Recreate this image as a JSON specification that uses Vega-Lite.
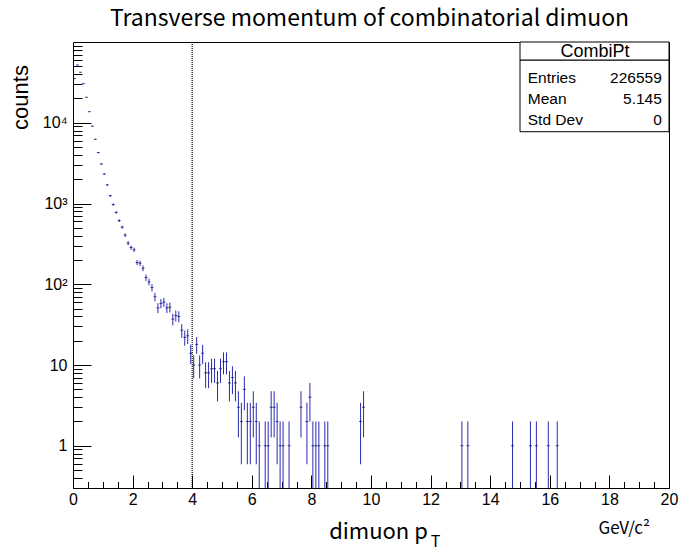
{
  "$schema": "https://vega.github.io/schema/vega-lite/v6.json",
  "width": 596,
  "height": 446,
  "autosize": {"type": "none"},
  "padding": {"left": 73, "top": 42, "right": 11, "bottom": 63},
  "background": "white",
  "datasets": {
    "hist": [
      {"pt": 0.05, "n": 35200, "err": 187.6},
      {"pt": 0.15, "n": 51900, "err": 227.8},
      {"pt": 0.25, "n": 42200, "err": 205.4},
      {"pt": 0.35, "n": 30500, "err": 174.6},
      {"pt": 0.45, "n": 20700, "err": 143.9},
      {"pt": 0.55, "n": 13700, "err": 117.0},
      {"pt": 0.65, "n": 9060, "err": 95.2},
      {"pt": 0.75, "n": 6250, "err": 79.1},
      {"pt": 0.85, "n": 4270, "err": 65.3},
      {"pt": 0.95, "n": 3090, "err": 55.6},
      {"pt": 1.05, "n": 2320, "err": 48.2},
      {"pt": 1.15, "n": 1700, "err": 41.2},
      {"pt": 1.25, "n": 1250, "err": 35.4},
      {"pt": 1.35, "n": 969, "err": 31.1},
      {"pt": 1.45, "n": 776, "err": 27.9},
      {"pt": 1.55, "n": 614, "err": 24.8},
      {"pt": 1.65, "n": 510, "err": 22.6},
      {"pt": 1.75, "n": 406, "err": 20.1},
      {"pt": 1.85, "n": 323, "err": 18.0},
      {"pt": 1.95, "n": 285, "err": 16.9},
      {"pt": 2.05, "n": 267, "err": 16.3},
      {"pt": 2.15, "n": 186, "err": 13.6},
      {"pt": 2.25, "n": 182, "err": 13.5},
      {"pt": 2.35, "n": 158, "err": 12.6},
      {"pt": 2.45, "n": 121, "err": 11.0},
      {"pt": 2.55, "n": 107, "err": 10.34},
      {"pt": 2.65, "n": 91, "err": 9.54},
      {"pt": 2.75, "n": 70, "err": 8.37},
      {"pt": 2.85, "n": 51, "err": 7.14},
      {"pt": 2.95, "n": 58, "err": 7.62},
      {"pt": 3.05, "n": 60, "err": 7.75},
      {"pt": 3.15, "n": 51, "err": 7.14},
      {"pt": 3.25, "n": 52, "err": 7.21},
      {"pt": 3.35, "n": 37, "err": 6.08},
      {"pt": 3.45, "n": 41, "err": 6.40},
      {"pt": 3.55, "n": 40, "err": 6.32},
      {"pt": 3.65, "n": 27, "err": 5.20},
      {"pt": 3.75, "n": 22, "err": 4.69},
      {"pt": 3.85, "n": 23, "err": 4.80},
      {"pt": 3.95, "n": 14, "err": 3.74},
      {"pt": 4.05, "n": 10, "err": 3.16},
      {"pt": 4.15, "n": 18, "err": 4.24},
      {"pt": 4.25, "n": 10, "err": 3.16},
      {"pt": 4.35, "n": 14, "err": 3.74},
      {"pt": 4.45, "n": 8, "err": 2.83},
      {"pt": 4.55, "n": 8, "err": 2.83},
      {"pt": 4.65, "n": 9, "err": 3.0},
      {"pt": 4.75, "n": 9, "err": 3.0},
      {"pt": 4.85, "n": 6, "err": 2.45},
      {"pt": 4.95, "n": 9, "err": 3.0},
      {"pt": 5.05, "n": 11, "err": 3.32},
      {"pt": 5.15, "n": 11, "err": 3.32},
      {"pt": 5.25, "n": 6, "err": 2.45},
      {"pt": 5.35, "n": 7, "err": 2.65},
      {"pt": 5.45, "n": 6, "err": 2.45},
      {"pt": 5.55, "n": 3, "err": 1.73},
      {"pt": 5.65, "n": 2, "err": 1.41},
      {"pt": 5.75, "n": 5, "err": 2.24},
      {"pt": 5.85, "n": 2, "err": 1.41},
      {"pt": 5.95, "n": 2, "err": 1.41},
      {"pt": 6.05, "n": 3, "err": 1.73},
      {"pt": 6.15, "n": 2, "err": 1.41},
      {"pt": 6.25, "n": 1, "err": 1.0},
      {"pt": 6.45, "n": 1, "err": 1.0},
      {"pt": 6.55, "n": 1, "err": 1.0},
      {"pt": 6.65, "n": 3, "err": 1.73},
      {"pt": 6.75, "n": 3, "err": 1.73},
      {"pt": 6.85, "n": 2, "err": 1.41},
      {"pt": 6.95, "n": 1, "err": 1.0},
      {"pt": 7.05, "n": 1, "err": 1.0},
      {"pt": 7.25, "n": 1, "err": 1.0},
      {"pt": 7.65, "n": 3, "err": 1.73},
      {"pt": 7.85, "n": 2, "err": 1.41},
      {"pt": 7.95, "n": 4, "err": 2.0},
      {"pt": 8.05, "n": 1, "err": 1.0},
      {"pt": 8.15, "n": 1, "err": 1.0},
      {"pt": 8.25, "n": 1, "err": 1.0},
      {"pt": 8.45, "n": 1, "err": 1.0},
      {"pt": 8.55, "n": 1, "err": 1.0},
      {"pt": 9.65, "n": 2, "err": 1.41},
      {"pt": 9.75, "n": 3, "err": 1.73},
      {"pt": 13.05, "n": 1, "err": 1.0},
      {"pt": 13.25, "n": 1, "err": 1.0},
      {"pt": 14.75, "n": 1, "err": 1.0},
      {"pt": 15.35, "n": 1, "err": 1.0},
      {"pt": 15.55, "n": 1, "err": 1.0},
      {"pt": 15.95, "n": 1, "err": 1.0},
      {"pt": 16.25, "n": 1, "err": 1.0}
    ]
  },
  "layer": [
    {
      "data": {"name": "hist"},
      "mark": {"type": "errorbar", "ticks": false, "color": "#2a2ab0", "thickness": 1, "clip": true},
      "encoding": {
        "x": {
          "field": "pt", "type": "quantitative",
          "scale": {"domain": [0, 20], "nice": false, "zero": false},
          "axis": {
            "orient": "bottom",
            "values": [0,0.5,1,1.5,2,2.5,3,3.5,4,4.5,5,5.5,6,6.5,7,7.5,8,8.5,9,9.5,10,10.5,11,11.5,12,12.5,13,13.5,14,14.5,15,15.5,16,16.5,17,17.5,18,18.5,19,19.5,20],
            "labelExpr": "datum.value % 2 == 0 ? format(datum.value, 'd') : ''",
            "tickSize": {"condition": {"test": "datum.value % 2 == 0", "value": -13}, "value": -6.5},
            "labelPadding": 16,
            "labelBaseline": "top",
            "labelOverlap": false,
            "labelFlush": false,
            "title": "dimuon p",
            "titleFont": "Noto Sans CJK JP",
            "titleFontSize": 22,
            "titleFontWeight": "normal",
            "titleAnchor": null,
            "titleAlign": "center",
            "titleBaseline": "alphabetic",
            "titleX": 305,
            "titleY": 50
          }
        },
        "y": {
          "field": "n", "type": "quantitative",
          "scale": {"type": "log", "domain": [0.3, 100000], "nice": false, "clamp": true},
          "axis": {
            "orient": "left",
            "values": [0.3,0.4,0.5,0.6,0.7,0.8,0.9,1,2,3,4,5,6,7,8,9,10,20,30,40,50,60,70,80,90,100,200,300,400,500,600,700,800,900,1000,2000,3000,4000,5000,6000,7000,8000,9000,10000,20000,30000,40000,50000,60000,70000,80000,90000],
            "labelExpr": "datum.value == 1 ? '1' : datum.value == 10 ? '10' : datum.value == 100 ? '10²' : datum.value == 1000 ? '10³' : datum.value == 10000 ? '10⁴' : ''",
            "tickSize": {"condition": {"test": "indexof([1,10,100,1000,10000], datum.value) >= 0", "value": -18}, "value": -9},
            "labelPadding": 24,
            "labelOverlap": false,
            "labelFlush": false,
            "title": "counts",
            "titleFont": "Liberation Sans",
            "titleFontSize": 22,
            "titleFontWeight": "normal",
            "titleAnchor": null,
            "titleAngle": -90,
            "titleAlign": "center",
            "titleBaseline": "middle",
            "titleX": -53,
            "titleY": 55
          }
        },
        "yError": {"field": "err"}
      }
    },
    {
      "data": {"name": "hist"},
      "mark": {"type": "tick", "orient": "horizontal", "size": 3, "thickness": 1, "color": "#000070"},
      "encoding": {
        "x": {"field": "pt", "type": "quantitative", "axis": null},
        "y": {"field": "n", "type": "quantitative", "axis": null}
      }
    },
    {
      "data": {"values": [{}]},
      "mark": {"type": "rule", "color": "black", "strokeWidth": 1.2, "strokeDash": [1, 1]},
      "encoding": {
        "x": {
          "datum": 4, "type": "quantitative",
          "axis": {
            "orient": "bottom", "ticks": false, "labels": false, "domain": false, "grid": false,
            "title": "T",
            "titleFont": "Noto Sans CJK JP",
            "titleFontSize": 16,
            "titleFontWeight": "normal",
            "titleAnchor": null,
            "titleAlign": "center",
            "titleBaseline": "alphabetic",
            "titleX": 362,
            "titleY": 58
          }
        }
      }
    },
    {
      "data": {"values": [{}]},
      "mark": {"type": "rect", "fill": "white", "stroke": "black", "strokeWidth": 1},
      "encoding": {
        "x": {
          "datum": 15.0, "type": "quantitative",
          "axis": {
            "orient": "bottom", "ticks": false, "labels": false, "domain": false, "grid": false,
            "title": "GeV/c²",
            "titleFont": "Noto Sans CJK JP",
            "titleFontSize": 17,
            "titleFontWeight": "normal",
            "titleAnchor": null,
            "titleAlign": "left",
            "titleBaseline": "alphabetic",
            "titleX": 525,
            "titleY": 45
          }
        },
        "x2": {"datum": 20},
        "y": {"datum": 59840, "type": "quantitative", "axis": null},
        "y2": {"datum": 7745}
      }
    },
    {
      "data": {"values": [{}]},
      "mark": {"type": "rect", "fill": "white", "stroke": "black", "strokeWidth": 1},
      "encoding": {
        "x": {
          "datum": 15.0, "type": "quantitative",
          "axis": {
            "orient": "top", "ticks": false, "labels": false, "domain": false, "grid": false,
            "title": "Transverse momentum of combinatorial dimuon",
            "titleFont": "Noto Sans CJK JP",
            "titleFontSize": 23,
            "titleFontWeight": "normal",
            "titleAnchor": null,
            "titleAlign": "center",
            "titleBaseline": "alphabetic",
            "titleX": 296,
            "titleY": -17
          }
        },
        "x2": {"datum": 20},
        "y": {"datum": 100000, "type": "quantitative", "axis": null},
        "y2": {"datum": 59840}
      }
    },
    {
      "data": {"values": [{}]},
      "mark": {"type": "text", "font": "Liberation Sans", "fontSize": 18, "align": "center", "baseline": "middle", "color": "black"},
      "encoding": {
        "x": {"datum": 17.52, "type": "quantitative", "axis": null},
        "y": {"datum": 75800, "type": "quantitative", "axis": null},
        "text": {"value": "CombiPt"}
      }
    },
    {
      "data": {"values": [{}]},
      "mark": {"type": "text", "font": "Liberation Sans", "fontSize": 15.5, "align": "left", "baseline": "middle", "lineBreak": "\n", "lineHeight": 21, "color": "black"},
      "encoding": {
        "x": {"datum": 15.26, "type": "quantitative", "axis": null},
        "y": {"datum": 36140, "type": "quantitative", "axis": null},
        "text": {"value": "Entries\nMean\nStd Dev"}
      }
    },
    {
      "data": {"values": [{}]},
      "mark": {"type": "text", "font": "Liberation Sans", "fontSize": 15.5, "align": "right", "baseline": "middle", "lineBreak": "\n", "lineHeight": 21, "color": "black"},
      "encoding": {
        "x": {"datum": 19.76, "type": "quantitative", "axis": null},
        "y": {"datum": 36140, "type": "quantitative", "axis": null},
        "text": {"value": "226559\n5.145\n0"}
      }
    }
  ],
  "resolve": {"axis": {"x": "independent", "y": "independent"}},
  "config": {
    "view": {"stroke": "black", "strokeWidth": 1},
    "axis": {
      "domain": false,
      "grid": false,
      "tickColor": "black",
      "tickWidth": 1,
      "labelColor": "black",
      "labelFont": "Liberation Sans",
      "labelFontSize": 16,
      "titleColor": "black"
    }
  }
}
